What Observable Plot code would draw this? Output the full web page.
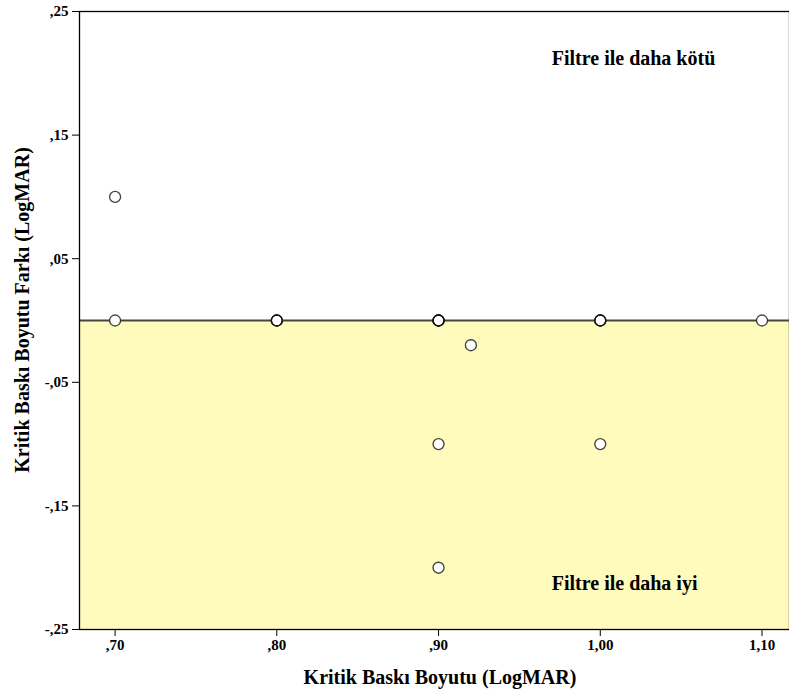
<!DOCTYPE html>
<html>
<head>
<meta charset="utf-8">
<script src="https://cdn.jsdelivr.net/npm/d3@7"></script>
<script src="https://cdn.jsdelivr.net/npm/@observablehq/plot@0.6"></script>
<style>
  html, body { margin: 0; padding: 0; background: #fff; }
  svg { display: block; }
</style>
</head>
<body>
<div id="chart"></div>
<script>
// Data: Kritik Baskı Boyutu (x) vs Kritik Baskı Boyutu Farkı (y)
const xValues = [0.70, 0.70, 0.80, 0.80, 0.80, 0.90, 0.90, 0.90, 0.90, 0.90, 0.90, 0.92, 1.00, 1.00, 1.00, 1.00, 1.10];
const yValues = [0.10, 0.00, 0.00, 0.00, 0.00, 0.00, 0.00, 0.00, 0.00, -0.10, -0.20, -0.02, 0.00, 0.00, 0.00, -0.10, 0.00];

const xDomain = [0.678, 1.117];
const yDomain = [-0.25, 0.25];
const xTicks = [0.70, 0.80, 0.90, 1.00, 1.10];
const yTicks = [-0.25, -0.15, -0.05, 0.05, 0.15, 0.25];

const annotationText = ["Filtre ile daha kötü", "Filtre ile daha iyi"];
const annotationX = [0.970, 0.970];
const annotationY = [0.212, -0.213];

const xLabel = "Kritik Baskı Boyutu (LogMAR)";
const yLabel = "Kritik Baskı Boyutu Farkı (LogMAR)";

const points = xValues.map((x, i) => ({x, y: yValues[i]}));
const notes = annotationText.map((t, i) => ({t, x: annotationX[i], y: annotationY[i]}));

const fmt = v => {
  let s = v.toFixed(2).replace(".", ",");
  s = s.replace(/^0,/, ",").replace(/^-0,/, "-,");
  return s;
};

const serif = "'Liberation Serif', 'Times New Roman', serif";

const chart = Plot.plot({
  width: 789,
  height: 699,
  marginLeft: 79,
  marginRight: 0,
  marginTop: 11,
  marginBottom: 70,
  style: {fontFamily: serif, fontWeight: "bold", fontSize: "15px", color: "#000", background: "#fff"},
  x: {domain: xDomain, label: null},
  y: {domain: yDomain, label: null},
  marks: [
    Plot.rect([{}], {x1: xDomain[0], x2: xDomain[1], y1: yDomain[0], y2: 0, fill: "#fffbbd"}),
    Plot.ruleY([0], {stroke: "#46463a", strokeWidth: 1.8}),
    Plot.frame({stroke: "#000", strokeWidth: 1.3}),
    Plot.axisX({ticks: xTicks, tickFormat: () => "", tickSize: 7, stroke: "#000", label: null}),
    Plot.axisY({ticks: yTicks, tickFormat: () => "", tickSize: 7, stroke: "#000", label: null}),
    Plot.text(xTicks, {x: d => d, frameAnchor: "bottom", dy: 20, text: fmt, fontSize: 15, fontWeight: "bold", fill: "#000"}),
    Plot.text(yTicks, {y: d => d, frameAnchor: "left", dx: -11, textAnchor: "end", text: fmt, fontSize: 15, fontWeight: "bold", fill: "#000"}),
    Plot.dot(points, {x: "x", y: "y", r: 5.5, stroke: null, fill: "#fff"}),
    Plot.dot(points, {x: "x", y: "y", r: 5.5, stroke: "#111", strokeOpacity: 0.78, strokeWidth: 1.35, fill: "none"}),
    Plot.text(notes, {x: "x", y: "y", text: "t", textAnchor: "start", fontSize: 20, fontWeight: "bold", fill: "#000"})
  ]
});

const svg = d3.select(chart);
svg.append("text")
  .attr("x", 440)
  .attr("y", 684)
  .attr("text-anchor", "middle")
  .style("font-size", "20px")
  .style("font-weight", "bold")
  .style("font-family", serif)
  .text(xLabel);
svg.append("text")
  .attr("transform", `translate(29, 310) rotate(-90)`)
  .attr("text-anchor", "middle")
  .style("font-size", "20px")
  .style("font-weight", "bold")
  .style("font-family", serif)
  .text(yLabel);

document.getElementById("chart").appendChild(chart);
</script>
</body>
</html>
